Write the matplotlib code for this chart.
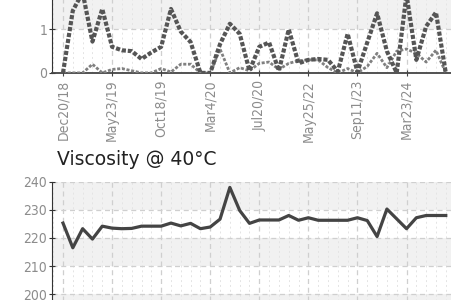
import matplotlib
matplotlib.use("Agg")
import matplotlib.pyplot as plt
from matplotlib.ticker import MultipleLocator

# sample dates shown on the category axis (every 5th sample)
tick_labels = ["Dec20/18", "May23/19", "Oct18/19", "Mar4/20",
               "Jul20/20", "May25/22", "Sep11/23", "Mar23/24"]

# top chart (cut off at the top of the frame), two series
series_a = [0, 1.43, 1.85, 0.72, 1.47, 0.6, 0.52, 0.5, 0.32, 0.47,
            0.6, 1.47, 0.95, 0.71, 0, 0, 0.66, 1.13, 0.9, 0.05,
            0.6, 0.7, 0.05, 1.0, 0.22, 0.3, 0.32, 0.3, 0.03, 0.9,
            0.02, 0.7, 1.37, 0.5, 0, 1.8, 0.3, 1.07, 1.39, 0]
series_b = [0, 0, 0, 0.2, 0, 0.08, 0.1, 0.05, 0, 0,
            0.1, 0.02, 0.2, 0.2, 0, 0, 0.55, 0, 0.12, 0.05,
            0.22, 0.25, 0.08, 0.22, 0.28, 0.3, 0.3, 0.12, 0, 0.1,
            0, 0.15, 0.45, 0.12, 0.5, 0.55, 0.45, 0.25, 0.52, 0]

# Viscosity @ 40C
viscosity = [225.3, 216.5, 223.3, 219.6, 224.2, 223.5, 223.3, 223.4, 224.2, 224.2,
             224.2, 225.3, 224.3, 225.2, 223.3, 223.9, 226.7, 238, 229.8, 225.2,
             226.4, 226.4, 226.4, 228, 226.3, 227.2, 226.3, 226.3, 226.3, 226.3,
             227.2, 226.2, 220.5, 230.3, 226.8, 223.3, 227.2, 228, 228, 228]

x = list(range(len(viscosity)))
tick_pos = x[::5]

fig = plt.figure(figsize=(4.51, 3.0), dpi=100)

tick_color = "#8c8c8c"


def fix_labels(labels):
    for lab in labels:
        lab.set_family("DejaVu Sans")
        lab.set_stretch("condensed")
        lab.set_fontsize(10)


def style_axes(ax, bands):
    for lo, hi in bands:
        ax.axhspan(lo, hi, color="#f1f1f1", zorder=0, lw=0)
    ax.set_xlim(-1.12, 40)
    ax.set_xticks(tick_pos)
    ax.xaxis.set_minor_locator(MultipleLocator(1))
    ax.grid(True, which="major", color="#cfcfcf", ls=(0, (4, 3)), lw=0.9, zorder=1)
    ax.grid(True, which="minor", axis="x", color="#e4e4e4", ls=(0, (2, 3)), lw=0.7, zorder=1)
    for s in ["top", "right"]:
        ax.spines[s].set_visible(False)
    ax.spines["left"].set_color("#333333")
    ax.spines["bottom"].set_color("#444444")
    ax.spines["bottom"].set_linewidth(1.3)
    ax.tick_params(axis="y", direction="inout", length=5, color="#333333",
                   labelcolor=tick_color, pad=1)
    ax.tick_params(axis="x", direction="inout", length=4, color="#444444",
                   labelcolor=tick_color, pad=3)
    ax.tick_params(which="minor", length=0)


# top chart
ax1 = fig.add_axes([52 / 451, 0.757, 403.6 / 451, 0.29])
ax1.set_ylim(0, 2)
ax1.plot(x, series_b, color="#808080", lw=2.0, dashes=(1.1, 0.6), zorder=3)
ax1.plot(x, series_a, color="#555555", lw=3.0, dashes=(1.0, 0.45), zorder=4)
style_axes(ax1, [(1, 2)])
ax1.set_yticks([0, 1])
ax1.set_xticklabels(tick_labels, rotation=90, va="top", ha="center")
fix_labels(ax1.get_xticklabels() + ax1.get_yticklabels())

# viscosity chart
ax2 = fig.add_axes([52 / 451, -0.074, 403.6 / 451, 0.468])
ax2.set_ylim(190, 240)
ax2.plot(x, viscosity, color="#444444", lw=2.3, zorder=4)
style_axes(ax2, [(230, 240), (210, 220), (190, 200)])
ax2.set_yticks([200, 210, 220, 230, 240])
ax2.set_xticklabels([])
fix_labels(ax2.get_yticklabels())

fig.text(57 / 451, 1 - 165 / 300, "Viscosity @ 40\u00b0C", fontsize=13.5,
         color="#222222", ha="left", va="baseline")

fig.savefig("out.png", dpi=100)
